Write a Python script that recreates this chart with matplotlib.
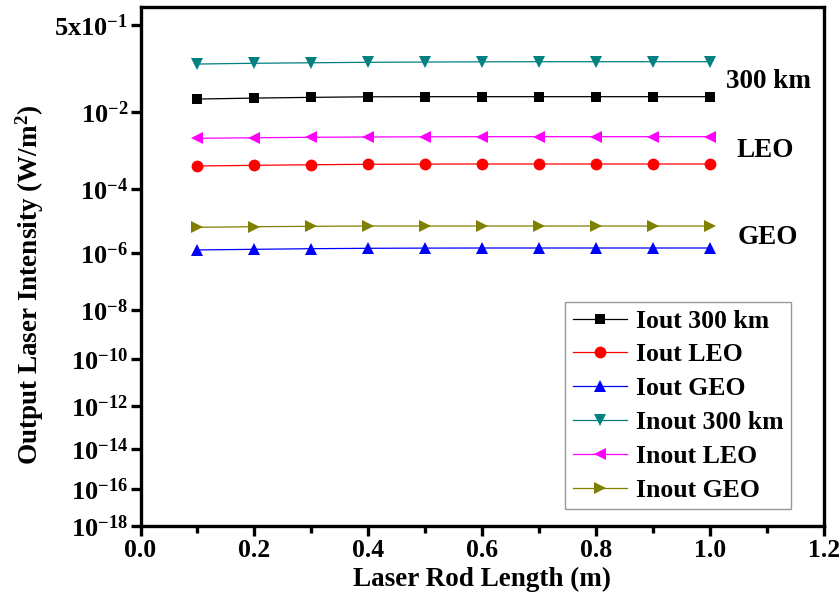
import numpy as np
import matplotlib
matplotlib.use('Agg')
import matplotlib.pyplot as plt
from matplotlib.ticker import MultipleLocator, FixedLocator, NullLocator, FormatStrFormatter

# data: laser rod length (m) and output intensities (W/m^2)
rod_length = [0.1, 0.2, 0.3, 0.4, 0.5, 0.6, 0.7, 0.8, 0.9, 1.0]
iout_300 = [0.0177, 0.0185, 0.0191, 0.0196, 0.0197, 0.0197, 0.0197, 0.0197, 0.0197, 0.0197]
iout_leo = [3.94e-4, 4.10e-4, 4.25e-4, 4.36e-4, 4.41e-4, 4.44e-4, 4.44e-4, 4.44e-4, 4.44e-4, 4.44e-4]
iout_geo = [1.27e-6, 1.33e-6, 1.39e-6, 1.43e-6, 1.45e-6, 1.46e-6, 1.46e-6, 1.46e-6, 1.46e-6, 1.46e-6]
inout_300 = [0.086, 0.089, 0.091, 0.093, 0.094, 0.095, 0.0955, 0.0955, 0.0955, 0.0955]
inout_leo = [2.05e-3, 2.12e-3, 2.18e-3, 2.22e-3, 2.24e-3, 2.26e-3, 2.26e-3, 2.26e-3, 2.26e-3, 2.26e-3]
inout_geo = [6.44e-6, 6.72e-6, 6.91e-6, 7.06e-6, 7.06e-6, 7.06e-6, 7.06e-6, 7.06e-6, 7.06e-6, 7.06e-6]

y_ticks = [0.5, 1e-2, 1e-4, 1e-6, 1e-8, 1e-10, 1e-12, 1e-14, 1e-16, 1e-18]
y_tick_labels = [r'$5\mathrm{x}10^{-1}$', r'$10^{-2}$', r'$10^{-4}$', r'$10^{-6}$', r'$10^{-8}$',
                 r'$10^{-10}$', r'$10^{-12}$', r'$10^{-14}$', r'$10^{-16}$', r'$10^{-18}$']

# the original y axis is a compressed log axis (decades shrink toward the bottom);
# calibration: decades below 1 -> fraction of axis height from the top
scale_decades = [0, 0.301, 2, 4, 6, 8, 10, 12, 14, 16, 18]
scale_frac = [0.0, 0.0356, 0.2023, 0.3510, 0.4746, 0.5837, 0.6785, 0.7683, 0.8515, 0.9285, 1.0]


def fwd(v):
    v = np.clip(np.asarray(v, dtype=float), 1e-300, None)
    u = -np.log10(v)
    return -np.interp(u, scale_decades, scale_frac)


def inv(p):
    u = np.interp(-np.asarray(p, dtype=float), scale_frac, scale_decades)
    return 10.0 ** (-u)


plt.rcParams['font.family'] = 'Liberation Serif'
plt.rcParams['font.weight'] = 'bold'
plt.rcParams['mathtext.fontset'] = 'custom'
plt.rcParams['mathtext.rm'] = 'Liberation Serif:bold'
plt.rcParams['mathtext.it'] = 'Liberation Serif:bold:italic'
plt.rcParams['mathtext.bf'] = 'Liberation Serif:bold'

FS = 19.5

fig = plt.figure(figsize=(8.39, 5.98), dpi=100)
ax = fig.add_axes([0.1675, 0.1196, 0.8145, 0.8695])
ax.set_yscale('function', functions=(fwd, inv))

series = [
    (iout_300, 'Iout 300 km', 's', '#000000', 7.5),
    (iout_leo, 'Iout LEO', 'o', '#FF0000', 8.5),
    (iout_geo, 'Iout GEO', '^', '#0000FF', 9),
    (inout_300, 'Inout 300 km', 'v', '#008080', 9),
    (inout_leo, 'Inout LEO', '<', '#FF00FF', 9),
    (inout_geo, 'Inout GEO', '>', '#808000', 9),
]
for vals, lab, mk, col, ms in series:
    ax.plot(rod_length, vals, marker=mk, color=col, markersize=ms, linewidth=0.9,
            markeredgewidth=0, label=lab)

ax.set_xlim(0, 1.2)
ax.set_ylim(1e-18, 1)
ax.xaxis.set_major_locator(MultipleLocator(0.2))
ax.xaxis.set_minor_locator(MultipleLocator(0.1))
ax.xaxis.set_major_formatter(FormatStrFormatter('%.1f'))
ax.yaxis.set_major_locator(FixedLocator(y_ticks))
ax.yaxis.set_minor_locator(NullLocator())
ax.set_yticklabels(y_tick_labels)

ax.tick_params(axis='both', which='major', direction='out', length=7, width=2.4, pad=2)
ax.tick_params(axis='y', labelsize=19)
ax.tick_params(axis='x', labelsize=18.5)
ax.tick_params(axis='x', which='minor', direction='out', length=5, width=2.4)
for sp in ax.spines.values():
    sp.set_linewidth(2.4)

ax.set_xlabel('Laser Rod Length (m)', fontsize=FS, fontweight='bold')
ax.xaxis.set_label_coords(0.5, -0.078)
ax.set_ylabel('Output Laser Intensity (W/m$^2$)', fontsize=FS, fontweight='bold')
ax.yaxis.set_label_coords(-0.138, 0.464)

ax.text(0.919, 0.855, '300 km', transform=ax.transAxes, ha='center', va='center',
        fontsize=FS, fontweight='bold')
ax.text(0.914, 0.724, 'LEO', transform=ax.transAxes, ha='center', va='center',
        fontsize=FS, fontweight='bold')
ax.text(0.918, 0.555, 'GEO', transform=ax.transAxes, ha='center', va='center',
        fontsize=FS, fontweight='bold')

leg = ax.legend(loc='upper right', bbox_to_anchor=(0.952, 0.432), borderaxespad=0,
                fontsize=18.5, fancybox=False, edgecolor='#808080', handlelength=2.1,
                handletextpad=0.35, labelspacing=0.42, borderpad=0.3)
leg.get_frame().set_linewidth(1.0)

fig.savefig('out.png', dpi=100)
